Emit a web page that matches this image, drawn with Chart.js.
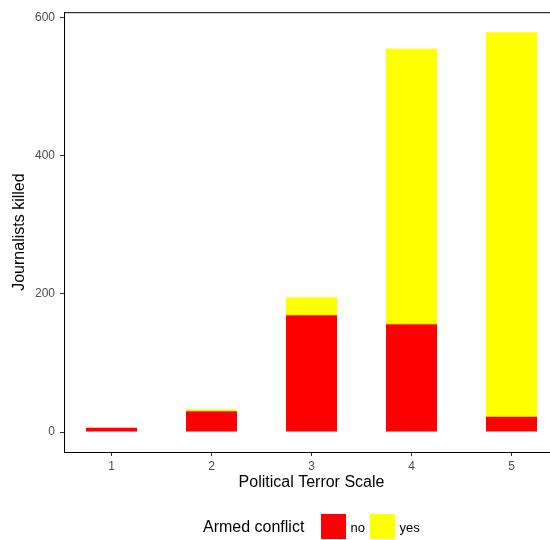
<!DOCTYPE html>
<html>
<head>
<meta charset="utf-8">
<script src="https://cdn.jsdelivr.net/npm/chart.js@4"></script>
<style>
  html, body { margin: 0; padding: 0; background: #fff; overflow: hidden; }
  #wrap { width: 560px; height: 540px; }
</style>
</head>
<body>
<div id="wrap"><canvas id="chart" width="560" height="540"></canvas></div>
<script>
// data
const categories = [1, 2, 3, 4, 5];
const noConflict = [6, 30, 169, 156, 22];
const yesConflict = [0, 3, 26, 399, 557];
const yTicks = [0, 200, 400, 600];

const FONT = '"Liberation Sans", Arial, sans-serif';

// top panel line + legend drawn by hand (ggplot style)
const panelAndLegend = {
    id: 'panelAndLegend',
    afterDraw(chart) {
        const ctx = chart.ctx;
        const a = chart.chartArea;
        ctx.save();
        ctx.strokeStyle = '#000';
        ctx.lineWidth = 1;
        ctx.beginPath();
        ctx.moveTo(a.left, a.top + 0.5);
        ctx.lineTo(a.right, a.top + 0.5);
        ctx.stroke();

        ctx.fillStyle = '#000';
        ctx.textBaseline = 'alphabetic';
        ctx.font = '16px ' + FONT;
        ctx.fillText('Armed conflict', 203, 532);
        ctx.fillStyle = '#FF0000';
        ctx.fillRect(321, 514, 25, 25);
        ctx.fillStyle = '#FFFF00';
        ctx.fillRect(370, 514, 25, 25);
        ctx.fillStyle = '#000';
        ctx.font = '13px ' + FONT;
        ctx.fillText('no', 350.5, 532);
        ctx.fillText('yes', 399.5, 532);
        ctx.restore();
    }
};

const ctx = document.getElementById('chart');
const chart = new Chart(ctx, {
    type: 'bar',
    data: {
        datasets: [{
            label: 'no',
            data: categories.map((c, i) => ({ x: c, y: noConflict[i] })),
            backgroundColor: '#FF0000',
            borderWidth: 0
        }, {
            label: 'yes',
            data: categories.map((c, i) => ({ x: c, y: yesConflict[i] })),
            backgroundColor: '#FFFF00',
            borderWidth: 0
        }]
    },
    options: {
        responsive: false,
        animation: false,
        categoryPercentage: 1,
        barPercentage: 0.51,
        layout: {
            padding: { top: 10, left: 0, right: 1, bottom: 48 }
        },
        plugins: {
            legend: { display: false },
            tooltip: { enabled: false }
        },
        scales: {
            x: {
                type: 'linear',
                stacked: true,
                offset: false,
                min: 0.525,
                max: 5.475,
                afterBuildTicks: scale => { scale.ticks = categories.map(v => ({ value: v })); },
                afterFit: scale => { scale.height = 40; },
                grid: {
                    offset: false,
                    drawOnChartArea: false,
                    drawTicks: true,
                    tickLength: 4,
                    tickColor: '#333'
                },
                border: { display: true, color: '#000', width: 1 },
                ticks: {
                    color: '#4d4d4d',
                    padding: 3,
                    font: { family: FONT, size: 12 }
                },
                title: {
                    display: true,
                    text: 'Political Terror Scale',
                    color: '#000',
                    padding: { top: 0, bottom: 0 },
                    font: { family: FONT, size: 16 }
                }
            },
            y: {
                stacked: true,
                min: -28.95,
                max: 607.95,
                afterBuildTicks: scale => { scale.ticks = yTicks.map(v => ({ value: v })); },
                afterFit: scale => { scale.width = 64; },
                grid: {
                    drawOnChartArea: false,
                    drawTicks: true,
                    tickLength: 4,
                    tickColor: '#333'
                },
                border: { display: true, color: '#000', width: 1 },
                ticks: {
                    color: '#4d4d4d',
                    padding: 5,
                    font: { family: FONT, size: 12 }
                },
                title: {
                    display: true,
                    text: 'Journalists killed',
                    color: '#000',
                    padding: { top: 10, bottom: 0 },
                    font: { family: FONT, size: 16 }
                }
            }
        }
    },
    plugins: [panelAndLegend]
});
</script>
</body>
</html>
